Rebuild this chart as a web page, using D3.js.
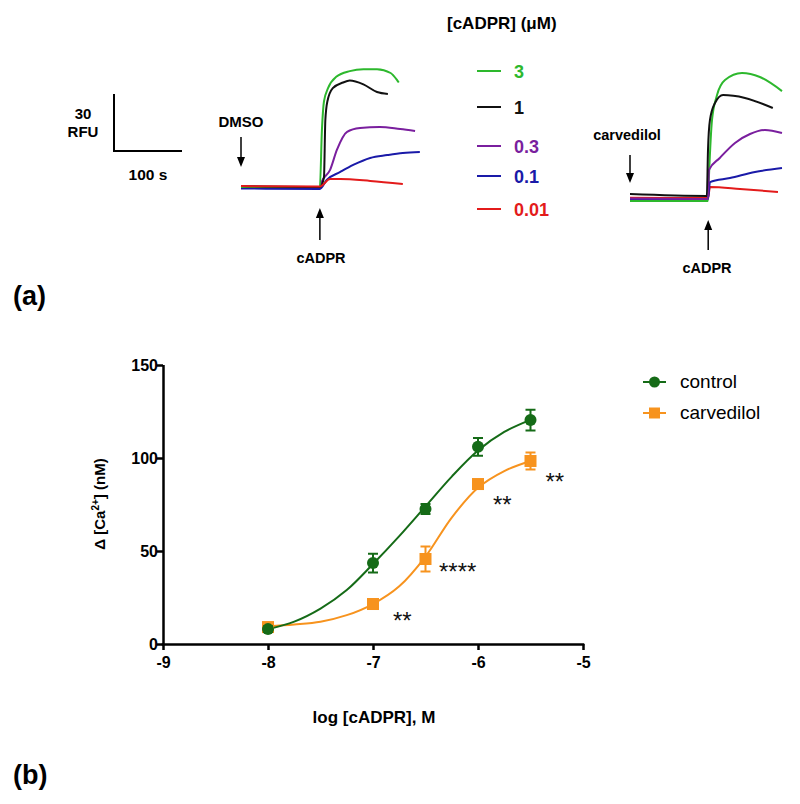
<!DOCTYPE html>
<html><head><meta charset="utf-8">
<script src="https://cdn.jsdelivr.net/npm/d3@7"></script>
<style>body{margin:0;background:#fff}svg{display:block}text{font-family:Arial,"Liberation Sans",sans-serif}</style>
</head><body>
<script>
// ---------- Panel (a) data: fluorescence traces, time (s) vs RFU ----------
const concLabels = ["3","1","0.3","0.1","0.01"];
const traceColors = ["#2db82d","#111111","#7a1f9e","#1a1aa8","#e31b1b"];
// DMSO panel traces [t, RFU]
const dmsoGreen  = [[0,0],[116,0],[119,30],[122,45],[128,52],[140,58],[160,61],[180,62],[200,62],[220,60],[230,56],[232,55]];
const dmsoBlack  = [[0,0.5],[116,0],[122,5],[124,35],[127,45],[135,52],[150,55],[160,56],[180,54],[200,50],[216,49]];
const dmsoPurple = [[0,0],[116,0],[119,3],[131,9],[141,19.5],[156,29],[175,31],[204,31.6],[234,30.5],[256,29.5]];
const dmsoBlue   = [[0,-0.8],[116,-1],[126,3.7],[146,7.9],[165,11.6],[190,15.3],[215,16.8],[238,17.9],[263,18.4]];
const dmsoRed    = [[0,0.5],[116,0.3],[131,4.2],[146,4.2],[190,3.2],[238,1.6]];
// carvedilol panel traces [t, RFU]
const carvGreen  = [[0,-1],[114.7,-1],[116.2,12.6],[120.6,41.6],[128,54.7],[139.7,62.6],[164.7,66.3],[191,64.2],[223.5,56.8]];
const carvBlack  = [[0,2.6],[113,1.6],[114.7,25.8],[117.6,41.6],[125,50.5],[136.8,54.7],[169,53.2],[210,47.9]];
const carvPurple = [[0,0.3],[114.7,0],[116.2,15.3],[132,21.6],[154.4,29.5],[176.5,34.2],[198.5,36.3],[223.5,34.7]];
const carvBlue   = [[0,0],[114.7,0],[117.6,8.9],[147,11],[183.8,14.2],[223.5,16.3]];
const carvRed    = [[0,0.6],[114.7,0.5],[117.6,6.3],[161.8,5.3],[217.6,3.7]];

// ---------- Panel (b) data ----------
const logConc = [-8,-7,-6.5,-6,-5.5];
const controlMean = [8,43.5,72.6,106,120.4];
const controlSEM  = [1.5,5,2.7,4.8,5.6];
const carvMean = [9.1,21.5,45.7,86,98.4];
const carvSEM  = [2,1.5,6.7,2,4.6];
const curveX = [-8,-7.75,-7.5,-7.25,-7,-6.75,-6.5,-6.25,-6,-5.75,-5.5];
const controlCurve = [8,12,19,29,43,58,74,90,104,114,120.5];
const carvCurve    = [9.5,10.5,12,15.5,21.5,31,47,68,84,93,98.4];
const xTicks = [-9,-8,-7,-6,-5];
const yTicks = [0,50,100,150];
const sigLabels = ["**","****","**","**"];
const sigX = [-7,-6.5,-6,-5.5];

const W=800,H=804;
const svg=d3.select("body").append("svg").attr("width",W).attr("height",H);

// ---------- Panel (a) ----------
const pxPerSec=0.68, pxPerRFU=1.9;
function panel(x0,y0,traces){
  const xs=d3.scaleLinear().domain([0,100]).range([x0,x0+100*pxPerSec]);
  const ys=d3.scaleLinear().domain([0,30]).range([y0,y0-30*pxPerRFU]);
  const line=d3.line().x(d=>xs(d[0])).y(d=>ys(d[1])).curve(d3.curveMonotoneX);
  traces.forEach((t,i)=>{
    svg.append("path").attr("d",line(t.data)).attr("fill","none")
      .attr("stroke",t.color).attr("stroke-width",2).attr("stroke-linejoin","round");
  });
  return {xs,ys};
}
const left=panel(241,187,[
  {data:dmsoBlue,color:traceColors[3]},
  {data:dmsoPurple,color:traceColors[2]},
  {data:dmsoGreen,color:traceColors[0]},
  {data:dmsoBlack,color:traceColors[1]},
  {data:dmsoRed,color:traceColors[4]}]);
const right=panel(630,199,[
  {data:carvGreen,color:traceColors[0]},
  {data:carvRed,color:traceColors[4]},
  {data:carvBlue,color:traceColors[3]},
  {data:carvPurple,color:traceColors[2]},
  {data:carvBlack,color:traceColors[1]}]);

// scale bar
const sb={x:114,y:151};
svg.append("path").attr("d",`M${sb.x},${sb.y-30*pxPerRFU}V${sb.y}H${sb.x+100*pxPerSec}`)
  .attr("fill","none").attr("stroke","#000").attr("stroke-width",2);
function btext(x,yy,s,fs,anchor){return svg.append("text").attr("x",x).attr("y",yy).attr("text-anchor",anchor||"middle").attr("font-size",fs).attr("font-weight","bold").text(s);}
btext(83,119,"30",15);
btext(83,137,"RFU",15);
btext(148,180,"100 s",15.5);

function arrow(x,y1,y2){ // from y1 to y2, head at y2
  svg.append("line").attr("x1",x).attr("x2",x).attr("y1",y1).attr("y2",y2-(y2>y1?5:-5))
    .attr("stroke","#000").attr("stroke-width",1.5);
  svg.append("path").attr("d", y2>y1 ? `M${x-4},${y2-10}L${x},${y2}L${x+4},${y2-10}Z` : `M${x-4},${y2+10}L${x},${y2}L${x+4},${y2+10}Z`).attr("fill","#000");
}
arrow(left.xs(0),137,167);
btext(241,127,"DMSO",15);
arrow(left.xs(116),240,208);
btext(321,263,"cADPR",14.5);
arrow(right.xs(0),155,183);
btext(627,140,"carvedilol",14.5);
arrow(right.xs(115),250,220);
btext(707,273,"cADPR",14.5);

// legend (a)
btext(447,29,"[cADPR] (μM)",17,"start");
const legY=[71,107,146,176,209];
concLabels.forEach((c,i)=>{
  svg.append("line").attr("x1",477).attr("x2",501).attr("y1",legY[i]).attr("y2",legY[i]).attr("stroke",traceColors[i]).attr("stroke-width",2);
  btext(514,legY[i]+6.5,c,18,"start").attr("fill",traceColors[i]);
});
btext(13,305,"(a)",27,"start");
btext(13,784,"(b)",27,"start");

// ---------- Panel (b) ----------
const x=d3.scaleLinear().domain([-9,-5]).range([163,583]);
const y=d3.scaleLinear().domain([0,150]).range([644,365]);
const gx=svg.append("g").attr("transform","translate(0,644)").call(d3.axisBottom(x).tickValues(xTicks).tickSize(6).tickSizeOuter(0));
const gy=svg.append("g").attr("transform","translate(163,0)").call(d3.axisLeft(y).tickValues(yTicks).tickSize(6).tickSizeOuter(0));
[gx,gy].forEach(g=>{g.selectAll("path,line").attr("stroke","#000").attr("stroke-width",2.5);
  g.selectAll("text").attr("font-size",16).attr("font-weight","bold").attr("font-family","Arial, Liberation Sans").attr("fill","#000");});
gx.select(".domain").attr("d","M161.75,0.5H584.25");
gy.select(".domain").attr("d","M0.5,365V645.25");
gx.selectAll("text").attr("dy","0.95em");
gx.selectAll(".tick text").text(d=>String(d));
gy.selectAll("text").attr("x",-5).attr("dy","0.35em");

svg.append("text").attr("transform","translate(105,504) rotate(-90)").attr("text-anchor","middle").attr("font-size",15).attr("font-weight","bold")
  .html('Δ [Ca<tspan dy="-6" font-size="10">2+</tspan><tspan dy="6">] (nM)</tspan>');
btext(374,723,"log [cADPR], M",17);

const green="#156b17", orange="#f7931e";
const cl=d3.line().x(d=>x(d[0])).y(d=>y(d[1])).curve(d3.curveCatmullRom.alpha(0.5));
svg.append("path").attr("d",cl(curveX.map((v,i)=>[v,carvCurve[i]]))).attr("fill","none").attr("stroke",orange).attr("stroke-width",2);
svg.append("path").attr("d",cl(curveX.map((v,i)=>[v,controlCurve[i]]))).attr("fill","none").attr("stroke",green).attr("stroke-width",2);

function errbars(mean,sem,col){
  logConc.forEach((c,i)=>{
    const cx=x(c);
    svg.append("path").attr("d",`M${cx},${y(mean[i]-sem[i])}V${y(mean[i]+sem[i])}M${cx-5},${y(mean[i]-sem[i])}H${cx+5}M${cx-5},${y(mean[i]+sem[i])}H${cx+5}`)
      .attr("stroke",col).attr("stroke-width",2).attr("fill","none");
  });
}
errbars(carvMean,carvSEM,orange);
logConc.forEach((c,i)=>svg.append("rect").attr("x",x(c)-6).attr("y",y(carvMean[i])-6).attr("width",12).attr("height",12).attr("fill",orange));
errbars(controlMean,controlSEM,green);
logConc.forEach((c,i)=>svg.append("circle").attr("cx",x(c)).attr("cy",y(controlMean[i])).attr("r",6).attr("fill",green));

const sigDx=[20,13.5,15,15], sigDy=[11,7,15,15];
sigX.forEach((s,i)=>{
  const idx=logConc.indexOf(s);
  svg.append("text").attr("x",x(s)+sigDx[i]).attr("y",y(carvMean[idx])+sigDy[i]+13.8)
    .attr("font-size",24).attr("fill","#111").text(sigLabels[i]);
});

// legend (b)
[["control",green,"c"],["carvedilol",orange,"s"]].forEach((d,i)=>{
  const ly=382+i*31;
  svg.append("line").attr("x1",643).attr("x2",666).attr("y1",ly).attr("y2",ly).attr("stroke",d[1]).attr("stroke-width",2);
  if(d[2]=="c") svg.append("circle").attr("cx",654.5).attr("cy",ly).attr("r",5.5).attr("fill",d[1]);
  else svg.append("rect").attr("x",649).attr("y",ly-5.5).attr("width",11).attr("height",11).attr("fill",d[1]);
  svg.append("text").attr("x",680).attr("y",ly+6).attr("font-size",19).text(d[0]);
});
</script>
</body></html>
